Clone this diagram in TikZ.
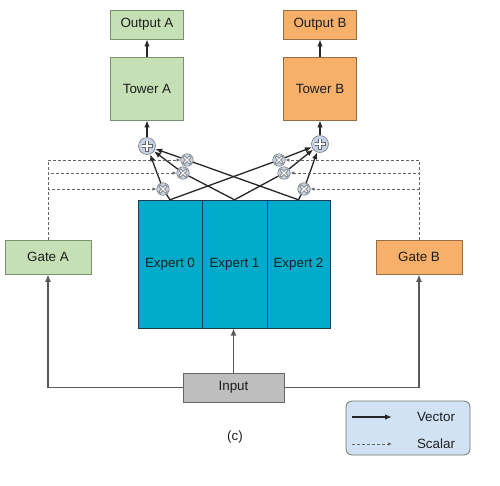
\documentclass[tikz,border=0pt]{standalone}
\usepackage{fontspec}
\setmainfont{Liberation Sans}
\usetikzlibrary{arrows.meta}

\definecolor{greenfill}{RGB}{198,224,181}
\definecolor{greenline}{RGB}{120,145,110}
\definecolor{orangefill}{RGB}{246,176,106}
\definecolor{orangeline}{RGB}{150,110,70}
\definecolor{expertfill}{RGB}{0,172,202}
\definecolor{expertline}{RGB}{30,60,75}
\definecolor{inputfill}{RGB}{190,190,190}
\definecolor{circfill}{RGB}{196,210,230}
\definecolor{legendfill}{RGB}{208,226,243}
\definecolor{txt}{RGB}{30,30,30}

\begin{document}
\begin{tikzpicture}[x=1pt, y=-1pt, >={Latex[length=7pt,width=5.5pt]},
  lbl/.style={font=\fontsize{13.4}{15}\selectfont, text=txt, inner sep=0pt},
  greenbox/.style={lbl, draw=greenline, fill=greenfill, line width=0.8pt, minimum width=73pt},
  orangebox/.style={lbl, draw=orangeline, fill=orangefill, line width=0.8pt, minimum width=73pt},
  expertbox/.style={lbl, draw=expertline, fill=expertfill, minimum width=64pt, minimum height=128pt},
  plusnode/.style={circle, draw=gray!70!black, fill=circfill, minimum size=17pt, inner sep=0pt,
    path picture={
      \draw[gray!80!black, line width=3.6pt] ([xshift=-5.5pt]path picture bounding box.center) -- ([xshift=5.5pt]path picture bounding box.center)
        ([yshift=-5.5pt]path picture bounding box.center) -- ([yshift=5.5pt]path picture bounding box.center);
      \draw[white, line width=2pt] ([xshift=-5pt]path picture bounding box.center) -- ([xshift=5pt]path picture bounding box.center)
        ([yshift=-5pt]path picture bounding box.center) -- ([yshift=5pt]path picture bounding box.center);}},
  multnode/.style={circle, draw=gray!70!black, fill=circfill, minimum size=12.5pt, inner sep=0pt,
    path picture={
      \draw[gray!80!black, line width=2.8pt] ([xshift=-3.5pt,yshift=-3.5pt]path picture bounding box.center) -- ([xshift=3.5pt,yshift=3.5pt]path picture bounding box.center)
        ([xshift=-3.5pt,yshift=3.5pt]path picture bounding box.center) -- ([xshift=3.5pt,yshift=-3.5pt]path picture bounding box.center);
      \draw[white, line width=1.4pt] ([xshift=-3pt,yshift=-3pt]path picture bounding box.center) -- ([xshift=3pt,yshift=3pt]path picture bounding box.center)
        ([xshift=-3pt,yshift=3pt]path picture bounding box.center) -- ([xshift=3pt,yshift=-3pt]path picture bounding box.center);}},
  vector/.style={draw=black!85, line width=1.3pt},
  scalar/.style={draw=black!60, densely dashed, line width=0.7pt, ->, >={Latex[length=4pt,width=3.5pt]}},
  inputline/.style={draw=black!65, line width=1.6pt, ->, >={Latex[length=7.5pt,width=6pt]}}]

\useasboundingbox (0,0) rectangle (500,485);

% -------- towers and outputs -----------
\node [greenbox, minimum height=29pt]  (outA)   at (147, 24.5) {Output A};
\node [greenbox, minimum height=63pt]  (towerA) at (147, 88.5) {Tower A};
\node [orangebox, minimum height=29pt] (outB)   at (320, 24.5) {Output B};
\node [orangebox, minimum height=63pt] (towerB) at (320, 88.5) {Tower B};

% -------- sums and products -----------
\node [plusnode] (plusA) at (147, 146) {};
\node [plusnode] (plusB) at (320, 144) {};
\node [multnode] (a1) at (187, 160) {};
\node [multnode] (a2) at (183, 173) {};
\node [multnode] (a3) at (163, 189) {};
\node [multnode] (b1) at (279, 160) {};
\node [multnode] (b2) at (284, 173) {};
\node [multnode] (b3) at (304, 189) {};

% -------- experts, gates, input -----------
\node [expertbox] (e0) at (170, 264) {Expert 0};
\node [expertbox, minimum width=65pt] (e1) at (234.5, 264) {Expert 1};
\node [expertbox, minimum width=63pt] (e2) at (298.5, 264) {Expert 2};
\node [greenbox, minimum width=86pt, minimum height=34pt]  (gateA) at (48, 257) {Gate A};
\node [orangebox, minimum width=86pt, minimum height=34pt] (gateB) at (419, 257) {Gate B};
\node [lbl, draw=black!60, fill=inputfill, line width=0.8pt, minimum width=101pt, minimum height=29pt] (input) at (233.5, 387.5) {Input};

% -------- vectors -----------
\draw [vector, ->] (towerA) -- (outA);
\draw [vector, ->] (towerB) -- (outB);
\draw [vector, ->] (plusA) -- (towerA);
\draw [vector, ->] (plusB) -- (towerB);

\draw [vector] (e2.north) -- (a1);
\draw [vector] (e1.north) -- (a2);
\draw [vector] (e0.north) -- (a3);
\draw [vector] (e0.north) -- (b1);
\draw [vector] (e1.north) -- (b2);
\draw [vector] (e2.north) -- (b3);
\foreach \m in {a1,a2,a3} \draw [vector, ->] (\m) -- (plusA);
\foreach \m in {b1,b2,b3} \draw [vector, ->] (\m) -- (plusB);

% -------- gate scalars -----------
\foreach \m in {a1,a2,a3} \draw [scalar] (gateA.north) |- (\m);
\foreach \m in {b1,b2,b3} \draw [scalar] (gateB.north) |- (\m);

% -------- input -----------
\draw [inputline] (input.west) -| (gateA.south);
\draw [inputline] (input.east) -| (gateB.south);
\draw [inputline] (input.north) -- (input.north |- e1.south);

\node [lbl] (caption) at (235, 437) {(c)};

% -------- legend -----------
\node [draw=black!55, fill=legendfill, line width=0.8pt, rounded corners=6pt, minimum width=124pt, minimum height=54pt] (legend) at (408, 428) {};
\coordinate (vs) at (352, 417);
\coordinate (ve) at (392, 417);
\coordinate (ss) at (352, 444);
\coordinate (se) at (392, 444);
\draw [vector, ->] (vs) -- (ve);
\draw [scalar] (ss) -- (se);
\node [lbl] (vectortext) at (436, 417) {Vector};
\node [lbl] (scalartext) at (436, 444) {Scalar};

\end{tikzpicture}
\end{document}
